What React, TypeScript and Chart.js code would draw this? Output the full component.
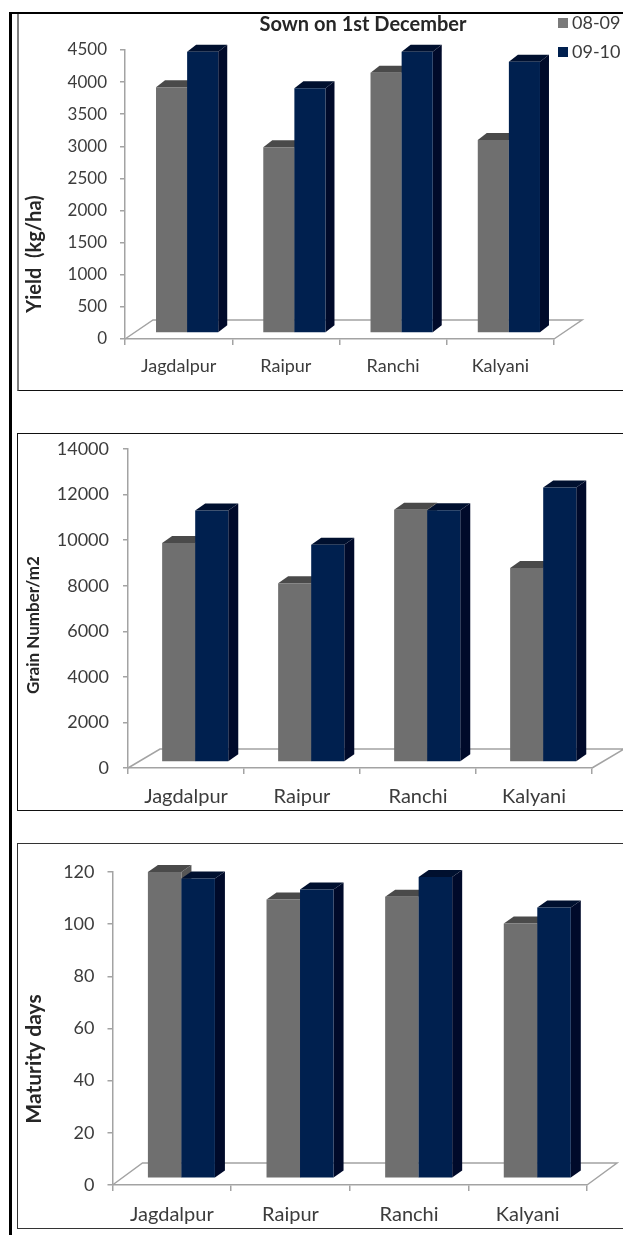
import React, { useEffect, useRef } from "react";
import { Chart, registerables } from "chart.js";

Chart.register(...registerables);

const stations = ["Jagdalpur", "Raipur", "Ranchi", "Kalyani"];
const seasons = ["08-09", "09-10"];

const yield0809 = [3826, 2891, 4053, 3005];
const yield0910 = [4380, 3810, 4380, 4225];
const grain0809 = [9607, 7850, 11070, 8509];
const grain0910 = [11040, 9532, 11050, 12050];
const maturity0809 = [117.4, 106.9, 107.9, 97.7];
const maturity0910 = [114.9, 110.7, 115.5, 103.8];

const FRONT = ["#6f6f6f", "#00204f"];
const SIDE = ["#565656", "#000a2a"];
const TOP = ["#4a4a4a", "#00102f"];
const AXIS = "#a3a3a3";
const INK = "#3c3c3c";

type Panel = {
  top: number; height: number; axisX: number; lastTick: number; plotTop: number; plotBottom: number;
  max: number; step: number; a: number[]; b: number[];
  shift: [number, number]; depth: [number, number]; floor: [number, number];
  cat: number; tickFont: number; xFont: number; tickPad: number; labelPad: number;
  frame: string; yTitle: string; yTitleFont: string; yTitleX: number; yTitleY: number;
  heading?: string;
};

const LEFT = 17;
const WIDTH = 606;

const panels: Panel[] = [
  { top: 13, height: 378, axisX: 125, lastTick: 554, plotTop: 50, plotBottom: 339, max: 4500, step: 500,
    a: yield0809, b: yield0910, shift: [8.5, 6], depth: [9, 7], floor: [28, 19], cat: 0.58,
    tickFont: 17, xFont: 18, tickPad: 13, labelPad: 10, frame: "#808080",
    yTitle: "Yield  (kg/ha)", yTitleFont: "bold 20px Lato", yTitleX: 35, yTitleY: 254,
    heading: "Sown on 1st December" },
  { top: 433, height: 378, axisX: 128, lastTick: 592, plotTop: 449, plotBottom: 768, max: 14000, step: 2000,
    a: grain0809, b: grain0910, shift: [9.2, 6], depth: [10, 7], floor: [32, 19], cat: 0.57,
    tickFont: 18, xFont: 20, tickPad: 14, labelPad: 11, frame: "#111111",
    yTitle: "Grain Number/m2", yTitleFont: "bold 17px Lato", yTitleX: 34, yTitleY: 625 },
  { top: 843, height: 386, axisX: 112.5, lastTick: 587, plotTop: 872, plotBottom: 1185, max: 120, step: 20,
    a: maturity0809, b: maturity0910, shift: [9.6, 6.7], depth: [10, 7], floor: [30, 22], cat: 0.565,
    tickFont: 18, xFont: 20, tickPad: 13, labelPad: 12, frame: "#333333",
    yTitle: "Maturity days", yTitleFont: "bold 21px Lato", yTitleX: 34, yTitleY: 1059 },
];

function makeChart(canvas: HTMLCanvasElement, p: Panel) {
  const [sx, sy] = p.shift;
  const [dx, dy] = p.depth;

  const solidBars = {
    id: "solidBars",
    beforeDatasetsDraw(chart: any) {
      // Floor of the plot, sitting behind the columns.
      const { ctx, chartArea: { left, right, bottom } } = chart;
      ctx.save();
      ctx.strokeStyle = AXIS;
      ctx.lineWidth = 1.5;
      ctx.beginPath();
      ctx.moveTo(left, bottom);
      ctx.lineTo(left + p.floor[0], bottom - p.floor[1]);
      ctx.lineTo(right + p.floor[0], bottom - p.floor[1]);
      ctx.lineTo(right, bottom);
      ctx.stroke();
      ctx.restore();
    },
    // The library paints the last series first; the navy columns must overlap
    // the grey ones, so the default pass is skipped and painted in series order.
    beforeDatasetDraw() {
      return false;
    },
    afterDatasetsDraw(chart: any) {
      const { ctx } = chart;
      ctx.save();
      // Columns stand part way into the floor.
      ctx.translate(sx, -sy);
      [0, 1].forEach((index) => {
        const meta = chart.getDatasetMeta(index);
        for (const bar of meta.data) {
          const l = bar.x - bar.width / 2;
          const r = bar.x + bar.width / 2;
          ctx.fillStyle = SIDE[index];
          ctx.beginPath();
          ctx.moveTo(r, bar.y);
          ctx.lineTo(r + dx, bar.y - dy);
          ctx.lineTo(r + dx, bar.base - dy);
          ctx.lineTo(r, bar.base);
          ctx.closePath();
          ctx.fill();
          ctx.fillStyle = TOP[index];
          ctx.beginPath();
          ctx.moveTo(l, bar.y);
          ctx.lineTo(l + dx, bar.y - dy);
          ctx.lineTo(r + dx, bar.y - dy);
          ctx.lineTo(r, bar.y);
          ctx.closePath();
          ctx.fill();
        }
        meta.controller.draw();
      });
      ctx.restore();
    },
  };

  const panelText = {
    id: "panelText",
    afterDraw(chart: any) {
      const { ctx } = chart;
      ctx.save();
      ctx.fillStyle = "#262626";
      ctx.textBaseline = "middle";
      ctx.save();
      ctx.translate(p.yTitleX - LEFT, p.yTitleY - p.top);
      ctx.rotate(-Math.PI / 2);
      ctx.textAlign = "center";
      ctx.font = p.yTitleFont;
      ctx.fillText(p.yTitle, 0, 0);
      ctx.restore();
      if (p.heading) {
        ctx.textAlign = "center";
        ctx.font = "bold 20px Lato";
        ctx.fillText(p.heading, 363 - LEFT, 25 - p.top);
        // Season key in the upper right corner.
        ctx.textAlign = "left";
        ctx.font = "18px Lato";
        seasons.forEach((s, i) => {
          const y = (i === 0 ? 23 : 52) - p.top;
          ctx.fillStyle = i === 0 ? "#7a7a7a" : FRONT[1];
          ctx.fillRect(558 - LEFT, y - 5, 10, 10);
          ctx.fillStyle = INK;
          ctx.fillText(s, 572 - LEFT, y);
        });
      }
      ctx.restore();
    },
  };

  return new Chart(canvas, {
    type: "bar",
    data: {
      labels: stations,
      datasets: [
        { label: seasons[0], data: p.a, backgroundColor: FRONT[0], clip: false },
        { label: seasons[1], data: p.b, backgroundColor: FRONT[1], clip: false },
      ],
    } as any,
    options: {
      animation: false,
      responsive: false,
      categoryPercentage: p.cat,
      barPercentage: 1,
      layout: { padding: { top: p.plotTop - p.top, right: LEFT + WIDTH - p.lastTick, left: 0, bottom: 0 } },
      plugins: { legend: { display: false }, title: { display: false }, tooltip: { enabled: false } },
      scales: {
        x: {
          afterFit(scale: any) {
            scale.height = p.top + p.height - p.plotBottom;
            scale.paddingLeft = 0;
            scale.paddingRight = 0;
          },
          border: { color: AXIS, width: 1.5 },
          grid: { drawOnChartArea: false, drawTicks: true, tickLength: 6, color: AXIS, lineWidth: 1.5 },
          ticks: { color: INK, font: { family: "Lato", size: p.xFont }, padding: p.labelPad, maxRotation: 0 },
        },
        y: {
          min: 0,
          max: p.max,
          afterFit(scale: any) {
            scale.width = p.axisX - LEFT;
            scale.paddingTop = 0;
            scale.paddingBottom = 0;
          },
          border: { color: AXIS, width: 1.5 },
          grid: { drawOnChartArea: false, drawTicks: true, tickLength: 5, color: AXIS, lineWidth: 1.5 },
          ticks: {
            stepSize: p.step,
            color: INK,
            font: { family: "Lato", size: p.tickFont },
            padding: p.tickPad,
            callback: (v: number) => String(v),
          },
        },
      },
    } as any,
    plugins: [solidBars, panelText],
  });
}

function PanelChart({ p }: { p: Panel }) {
  const ref = useRef<HTMLCanvasElement>(null);
  useEffect(() => {
    const chart = makeChart(ref.current!, p);
    return () => chart.destroy();
  }, [p]);
  const edge = `1px solid ${p.frame}`;
  return (
    <div style={{ position: "absolute", left: LEFT, top: p.top, width: WIDTH, height: p.height, background: "#fff" }}>
      <canvas ref={ref} width={WIDTH} height={p.height} style={{ display: "block", position: "absolute", left: 0, top: 0 }} />
      <div style={{ position: "absolute", inset: 0, boxSizing: "border-box", borderLeft: p.top === 13 ? `2px solid ${p.frame}` : edge, borderTop: p.top === 13 ? "none" : edge, borderBottom: p.top === 13 ? "1px solid #111" : edge, pointerEvents: "none" }} />
    </div>
  );
}

export default function App() {
  return (
    <div style={{ position: "absolute", left: 0, top: 0, width: 623, height: 1235, background: "#fff", overflow: "hidden" }}>
      {panels.map((p) => <PanelChart key={p.top} p={p} />)}
      <div style={{ position: "absolute", left: 9, top: 12, width: 614, height: 2, background: "#000" }} />
      <div style={{ position: "absolute", left: 9, top: 12, width: 3, height: 1223, background: "#000" }} />
    </div>
  );
}
